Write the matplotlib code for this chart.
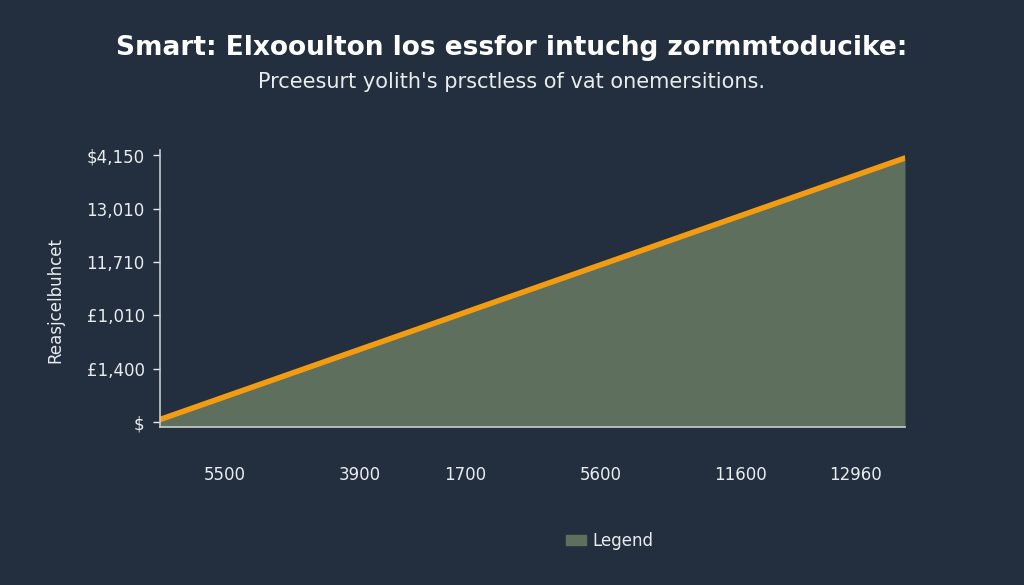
import matplotlib.pyplot as plt
from matplotlib.patches import Patch

BG = "#232f3e"
FILL = "#5f6f5e"
LINE = "#f39c12"
TXT = "#e8ecef"

# y ticks are evenly spaced category labels
y_labels = ["$", "£1,400", "£1,010", "11,710", "13,010", "$4,150"]
x_ticks = [0.087, 0.268, 0.409, 0.591, 0.779, 0.933]
x_labels = ["5500", "3900", "1700", "5600", "11600", "12960"]
line_x = [0.0, 1.0]
line_y = [0.05, 4.95]

fig = plt.figure(figsize=(10.24, 5.85), dpi=100, facecolor=BG)
ax = fig.add_axes([160 / 1024, 1 - 427 / 585, 745 / 1024, 277 / 585])
ax.set_facecolor(BG)

ax.fill_between(line_x, -0.09, line_y, color=FILL, linewidth=0)
ax.plot(line_x, line_y, color=LINE, linewidth=4, solid_capstyle="round")

ax.set_xlim(0, 1)
ax.set_ylim(-0.09, 5.1)
ax.set_yticks(range(len(y_labels)))
ax.set_yticklabels(y_labels)
ax.set_xticks(x_ticks)
ax.set_xticklabels(x_labels)
ax.tick_params(axis="y", colors=TXT, labelsize=12, length=5, width=1, pad=6)
ax.tick_params(axis="x", colors=TXT, labelsize=12, length=0, pad=28)
for s in ["top", "right"]:
    ax.spines[s].set_visible(False)
for s in ["left", "bottom"]:
    ax.spines[s].set_color("#c8ccd0")
    ax.spines[s].set_linewidth(1.2)

fig.text(55 / 1024, 1 - 300 / 585, "Reasjcelbuhcet", rotation=90, color=TXT,
         fontsize=12, ha="center", va="center")

fig.text(0.5, 1 - 48 / 585, "Smart: Elxooulton los essfor intuchg zormmtoducike:",
         color="white", fontsize=19, fontweight="bold", ha="center", va="center")
fig.text(0.5, 1 - 82 / 585, "Prceesurt yolith's prsctless of vat onemersitions.",
         color=TXT, fontsize=15, ha="center", va="center")

fig.legend(handles=[Patch(color=FILL, label="Legend")], loc="center",
           bbox_to_anchor=(610 / 1024, 1 - 541 / 585), frameon=False,
           labelcolor=TXT, fontsize=12, handlelength=1.2, handleheight=0.5,
           handletextpad=0.4)

fig.savefig("out.png", dpi=100, facecolor=BG)
